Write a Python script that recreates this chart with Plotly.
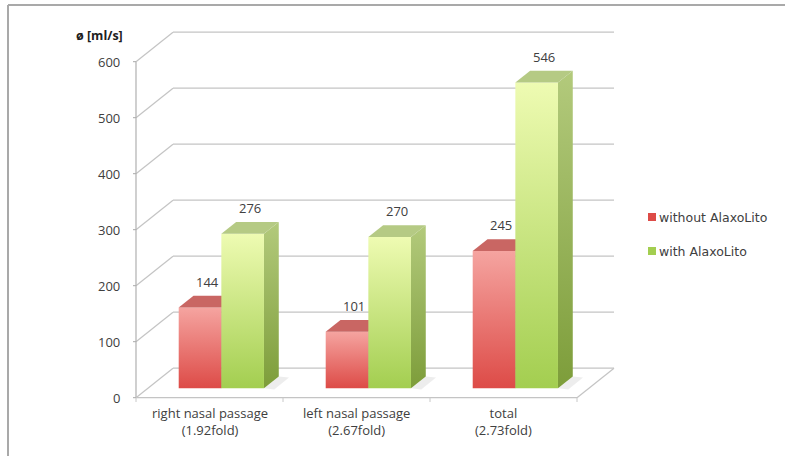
import plotly.graph_objects as go

# ---- data ----
categories = ["right nasal passage", "left nasal passage", "total"]
fold_labels = ["(1.92fold)", "(2.67fold)", "(2.73fold)"]
series_names = ["without AlaxoLito", "with AlaxoLito"]
without_vals = [144, 101, 245]
with_vals = [276, 270, 546]
y_ticks = [0, 100, 200, 300, 400, 500, 600]
y_title = "ø [ml/s]"

# ---- geometry (pixels) ----
W, H = 785, 456
ML, MR, MT, MB = 90, 150, 25, 54
PX_SLOT = 147.0      # pixels per category slot
PX_UNIT = 0.56       # pixels per ml/s
X0_PX, Y0_PX = 136.0, 397.7
plot_w, plot_h = W - ML - MR, H - MT - MB
x_lo = -(X0_PX - ML) / PX_SLOT
x_hi = x_lo + plot_w / PX_SLOT
y_lo = -((H - MB) - Y0_PX) / PX_UNIT
y_hi = y_lo + plot_h / PX_UNIT

DX = 37 / PX_SLOT      # full depth offset along x (slot units)
DY = 29.5 / PX_UNIT    # full depth offset along y (value units)
BAR_W = 0.29
F0, F1 = 0.32, 0.72    # depth span of the bars
YMAX = y_ticks[-1]
GRID = "#c4c4c4"
TXT = "#404040"
FONT = "Open Sans"


def px_to_paper(px, py):
    return (px - ML) / plot_w, 1 - (py - MT) / plot_h


styles = [
    dict(front=("#dd4b47", "#f5a4a0"), side=("#a83c38", "#d07470"), top="#c96663"),
    dict(front=("#a3ce50", "#eefbb2"), side=("#7d9d3a", "#b3ca7c"), top="#b5ca84"),
]

fig = go.Figure()
shapes = []
annotations = []


def line(x0, y0, x1, y1, color=GRID, width=1.2):
    shapes.append(dict(type="line", xref="x", yref="y", x0=x0, y0=y0, x1=x1, y1=y1,
                       line=dict(color=color, width=width), layer="below"))


# back wall gridlines and side-wall diagonals
for v in y_ticks:
    line(DX, v + DY, len(categories) + DX, v + DY)
    line(0, v, DX, v + DY)
    line(-3 / PX_SLOT, v, 0, v, color="#a8a8a8", width=1)
# front value axis
line(0, 0, 0, YMAX, color="#b0b0b0", width=1.2)
# floor edges
n = len(categories)
line(0, 0, n, 0)
line(n, 0, n + DX, DY)
for i in range(n + 1):
    line(i, 0, i, -6 / PX_UNIT, color="#c8c8c8", width=1)


def face(xs, ys, colors=None, flat=None):
    kw = dict(x=xs + [xs[0]], y=ys + [ys[0]], mode="lines", fill="toself",
              line=dict(width=0, color="rgba(0,0,0,0)"), hoverinfo="skip",
              showlegend=False)
    if colors is not None:
        kw["fillgradient"] = dict(type="vertical", colorscale=[[0, colors[0]], [1, colors[1]]],
                                  start=min(ys), stop=max(ys))
        kw["fillcolor"] = colors[1]
    else:
        kw["fillcolor"] = flat
    fig.add_trace(go.Scatter(**kw))


ax, ay = F0 * DX, F0 * DY
bx, by = F1 * DX, F1 * DY
for i in range(n):
    for s, vals in enumerate([without_vals, with_vals]):
        v = vals[i]
        st = styles[s]
        x0 = i + 0.5 - BAR_W + s * BAR_W
        x1 = x0 + BAR_W
        if s == 1:
            # soft shadow on the floor
            face([x1 + ax, x1 + bx, x1 + bx + 0.07, x1 + ax + 0.07],
                 [ay, by, by - 2, ay - 2], flat="rgba(0,0,0,0.07)")
        # right side
        face([x1 + ax, x1 + bx, x1 + bx, x1 + ax], [ay, by, v + by, v + ay], colors=st["side"])
        # front
        face([x0 + ax, x1 + ax, x1 + ax, x0 + ax], [ay, ay, v + ay, v + ay], colors=st["front"])
        # top
        face([x0 + ax, x1 + ax, x1 + bx, x0 + bx], [v + ay, v + ay, v + by, v + by], flat=st["top"])
        # value label
        annotations.append(dict(x=(x0 + x1) / 2 + (ax + bx) / 2, y=v + by + 25, xref="x", yref="y",
                                text=str(v), showarrow=False, yanchor="middle",
                                font=dict(family=FONT, size=13, color=TXT)))

# value-axis tick labels and title
for v in y_ticks:
    annotations.append(dict(x=0, y=v, xref="x", yref="y", text=str(v), showarrow=False,
                            xanchor="right", yanchor="middle", xshift=-14,
                            font=dict(family=FONT, size=13, color=TXT)))
annotations.append(dict(x=0, y=YMAX, xref="x", yref="y", text="<b>" + y_title + "</b>",
                        showarrow=False, xanchor="right", yanchor="middle", xshift=-11, yshift=26,
                        font=dict(family=FONT, size=12.5, color="#202020")))

# category labels
for i, (c, f) in enumerate(zip(categories, fold_labels)):
    annotations.append(dict(x=i + 0.5, y=0, xref="x", yref="y", text=c + "<br>" + f,
                            showarrow=False, xanchor="center", yanchor="top", yshift=-4,
                            font=dict(family=FONT, size=13, color=TXT)))

# legend
legend_rows = [(217, styles[0]["front"][0]), (251, styles[1]["front"][0])]
for (py, col), name in zip(legend_rows, series_names):
    xa, ya = px_to_paper(648, py - 4)
    xb, yb = px_to_paper(656, py + 4)
    shapes.append(dict(type="rect", xref="paper", yref="paper", x0=xa, y0=yb, x1=xb, y1=ya,
                       fillcolor=col, line=dict(width=0)))
    tx, ty = px_to_paper(657, py)
    annotations.append(dict(x=tx, y=ty, xref="paper", yref="paper", text=name, showarrow=False,
                            xanchor="left", yanchor="middle",
                            font=dict(family="DejaVu Sans", size=12.5, color=TXT)))

# outer frame: top and left edges only
fx0, fy0 = px_to_paper(8, 5)
fx1, fy1 = px_to_paper(W, H)
for (a, b, c, d) in [(fx0, fy0, fx1, fy0), (fx0, fy0, fx0, fy1)]:
    shapes.append(dict(type="line", xref="paper", yref="paper", x0=a, y0=b, x1=c, y1=d,
                       line=dict(color="#a9a9a9", width=2), layer="below"))

fig.update_layout(
    width=W, height=H,
    margin=dict(l=ML, r=MR, t=MT, b=MB),
    paper_bgcolor="white", plot_bgcolor="white",
    xaxis=dict(range=[x_lo, x_hi], visible=False, fixedrange=True),
    yaxis=dict(range=[y_lo, y_hi], visible=False, fixedrange=True),
    shapes=shapes, annotations=annotations, showlegend=False,
)

fig.write_html("out.html")
